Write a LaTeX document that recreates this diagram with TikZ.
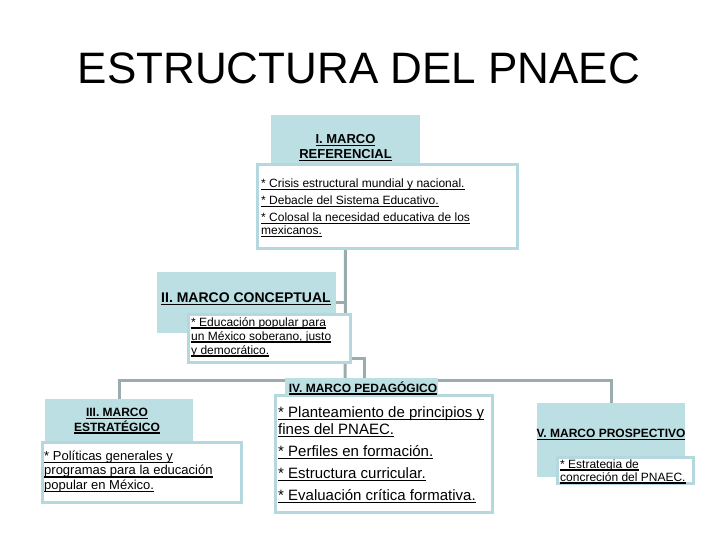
\documentclass[tikz,border=0pt]{standalone}
\usepackage{fontspec}
\setmainfont{Liberation Sans}
\newsavebox\ulbox
\newcommand{\undl}[1]{\sbox\ulbox{#1}\rlap{\rule[-2.6pt]{\wd\ulbox}{1.3pt}}\usebox\ulbox}
\pgfdeclarelayer{bg}
\pgfsetlayers{bg,main}
\definecolor{hdrcol}{RGB}{188,223,227}
\definecolor{bordcol}{RGB}{180,216,222}
\definecolor{linkcol}{RGB}{155,172,175}
\begin{document}
\begin{tikzpicture}[x=1pt,y=-1pt,
  hdr/.style={fill=hdrcol, draw=none, anchor=north west, inner sep=0pt, outer sep=0pt},
  bodybox/.style={fill=white, draw=bordcol, line width=3pt, anchor=north west, inner sep=0pt, outer sep=0pt},
  hdrtxt/.style={inner sep=0pt, align=center, font=\bfseries},
  bodytxt/.style={inner sep=0pt, align=left, anchor=west},
  link/.style={draw=linkcol, line width=3pt}]
\useasboundingbox (0,0) rectangle (720,540);

\node[font=\fontsize{44}{50}\selectfont] (title) at (359,68) {ESTRUCTURA DEL PNAEC};

% headers
\node[hdr, minimum width=149, minimum height=50] (h1) at (271,115) {};
\node[hdr, minimum width=179, minimum height=61] (h2) at (157,272) {};
\node[hdr, minimum width=148, minimum height=42] (h3) at (45,399) {};
\node[hdr, minimum width=148, minimum height=74] (h5) at (537,403) {};

% bodies
\node[bodybox, minimum width=260, minimum height=83] (b1) at (257,165) {};
\node[bodybox, minimum width=162, minimum height=48] (b2) at (188,314) {};
\node[bodybox, minimum width=199, minimum height=60] (b3) at (42,442) {};
\node[bodybox, minimum width=217, minimum height=117] (b4) at (275,395) {};
\node[bodybox, minimum width=136, minimum height=26] (b5) at (557,457) {};
\node[hdr, minimum width=153, minimum height=18] (h4) at (285,378) {};

\coordinate (bar) at (345,380);

\begin{pgfonlayer}{bg}
\draw[link] (h1.south |- b1.south) -- (bar);
\draw[link] (h3.north) |- (bar) -| (h5.north);
\draw[link] (h2.east) -- (h2.east -| bar);
\draw[link] ([yshift=4pt]b2.south east) -| ([xshift=2.5pt]h4.north);
\end{pgfonlayer}

% header texts
\node[hdrtxt, font=\bfseries\fontsize{13}{15}\selectfont] (h1t) at (345.5,148) {\undl{I. MARCO}\\\undl{REFERENCIAL}};
\node[hdrtxt, font=\bfseries\fontsize{14}{16}\selectfont] (h2t) at (246,299) {\undl{II. MARCO CONCEPTUAL}};
\node[hdrtxt, font=\bfseries\fontsize{12}{13}\selectfont] (h3t) at (117,421) {\undl{III. MARCO}\\\undl{ESTRATÉGICO}};
\node[hdrtxt, font=\bfseries\fontsize{12}{14}\selectfont] (h4t) at (363,388) {\undl{IV. MARCO PEDAGÓGICO}};
\node[hdrtxt, font=\bfseries\fontsize{12}{14}\selectfont] (h5t) at (611,435) {\undl{V. MARCO PROSPECTIVO}};

% body texts
\node[bodytxt, font=\fontsize{12}{13.5}\selectfont] (t1) at (261,208) {\undl{* Crisis estructural mundial y nacional.}\\[3.5pt]\undl{* Debacle del Sistema Educativo.}\\[3.5pt]\undl{* Colosal la necesidad educativa de los}\\\undl{mexicanos.}};
\node[bodytxt, font=\fontsize{12}{14}\selectfont] (t2) at (191,337) {\undl{* Educación popular para}\\\undl{un México soberano, justo}\\\undl{y democrático.}};
\node[bodytxt, font=\fontsize{13}{14.5}\selectfont] (t3) at (44,471.5) {\undl{* Políticas generales y}\\\undl{programas para la educación}\\\undl{popular en México.}};
\node[bodytxt, font=\fontsize{15}{17}\selectfont] (t4) at (278,455) {\undl{* Planteamiento de principios y}\\\undl{fines del PNAEC.}\\[5pt]\undl{* Perfiles en formación.}\\[5pt]\undl{* Estructura curricular.}\\[5pt]\undl{* Evaluación crítica formativa.}};
\node[bodytxt, font=\fontsize{12}{13}\selectfont] (t5) at (560,471.5) {\undl{* Estrategia de}\\\undl{concreción del PNAEC.}};
\end{tikzpicture}
\end{document}
